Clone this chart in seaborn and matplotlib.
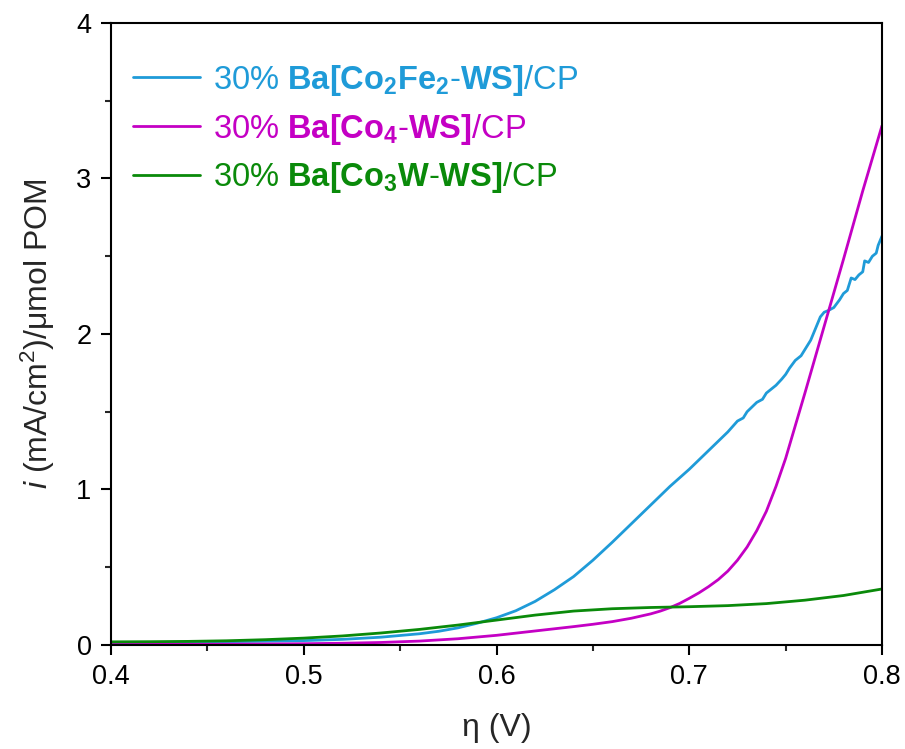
import matplotlib
matplotlib.use("Agg")
import matplotlib.pyplot as plt
import seaborn as sns
import numpy as np
import pandas as pd
from matplotlib.ticker import MultipleLocator

# ---- data ----
eta_green = [0.40, 0.42, 0.44, 0.46, 0.48, 0.50, 0.52, 0.54, 0.56, 0.58, 0.60,
             0.62, 0.64, 0.66, 0.68, 0.70, 0.72, 0.74, 0.76, 0.78, 0.80]
i_green = [0.020, 0.021, 0.023, 0.027, 0.034, 0.044, 0.058, 0.077, 0.100, 0.128, 0.160,
           0.192, 0.218, 0.233, 0.241, 0.246, 0.253, 0.266, 0.288, 0.318, 0.360]

eta_magenta = [0.40, 0.44, 0.48, 0.50, 0.52, 0.54, 0.56, 0.58, 0.60, 0.62, 0.64,
               0.65, 0.66, 0.67, 0.68, 0.685, 0.69, 0.695, 0.70, 0.705, 0.71, 0.715,
               0.72, 0.725, 0.73, 0.735, 0.74, 0.745, 0.75, 0.755, 0.76, 0.765,
               0.77, 0.775, 0.78, 0.785, 0.79, 0.795, 0.80]
i_magenta = [0.003, 0.004, 0.006, 0.008, 0.011, 0.016, 0.025, 0.040, 0.062, 0.090, 0.118,
             0.133, 0.150, 0.172, 0.200, 0.218, 0.240, 0.267, 0.300, 0.335, 0.375, 0.420,
             0.475, 0.545, 0.630, 0.735, 0.860, 1.020, 1.200, 1.410, 1.620, 1.835,
             2.050, 2.265, 2.480, 2.700, 2.920, 3.130, 3.340]

eta_blue = [0.40, 0.42, 0.44, 0.46, 0.48, 0.50, 0.52, 0.54, 0.56, 0.57, 0.58, 0.59, 0.60,
            0.61, 0.62, 0.63, 0.64, 0.65, 0.66, 0.67, 0.68, 0.69, 0.700, 0.705,
            0.710, 0.715, 0.720, 0.725, 0.728, 0.730, 0.735, 0.738, 0.740, 0.745,
            0.748, 0.750, 0.752, 0.755, 0.758, 0.760, 0.763, 0.765, 0.767, 0.768,
            0.770, 0.772, 0.775, 0.778, 0.780, 0.782, 0.784, 0.786, 0.788, 0.790,
            0.791, 0.793, 0.795, 0.797, 0.798, 0.800]
i_blue = [0.015, 0.016, 0.018, 0.021, 0.024, 0.028, 0.036, 0.050, 0.072, 0.088, 0.110, 0.140,
          0.175, 0.220, 0.280, 0.355, 0.440, 0.545, 0.660, 0.780, 0.900, 1.020, 1.130, 1.190,
          1.250, 1.310, 1.370, 1.440, 1.460, 1.500, 1.560, 1.580, 1.620, 1.670,
          1.710, 1.740, 1.780, 1.830, 1.860, 1.900, 1.960, 2.020, 2.080, 2.110,
          2.140, 2.150, 2.170, 2.220, 2.260, 2.280, 2.360, 2.350, 2.380, 2.400,
          2.470, 2.460, 2.500, 2.520, 2.570, 2.630]

labels = [r"30% $\mathbf{Ba[Co_2Fe_2}$-$\mathbf{WS]}$/CP",
          r"30% $\mathbf{Ba[Co_4}$-$\mathbf{WS]}$/CP",
          r"30% $\mathbf{Ba[Co_3W}$-$\mathbf{WS]}$/CP"]
colors = ["#1F9BD8", "#C400C4", "#0A8A0A"]

xticks = [0.4, 0.5, 0.6, 0.7, 0.8]
yticks = [0, 1, 2, 3, 4]

sns.set_style("ticks")
plt.rcParams["font.family"] = ["Liberation Sans", "DejaVu Sans"]
plt.rcParams["mathtext.fontset"] = "custom"
plt.rcParams["mathtext.rm"] = "Liberation Sans"
plt.rcParams["mathtext.it"] = "Liberation Sans:italic"
plt.rcParams["mathtext.bf"] = "Liberation Sans:bold"

fig = plt.figure(figsize=(9.05, 7.49), dpi=100)
ax = fig.add_axes([0.1227, 0.1389, 0.8519, 0.8304])

series = [(eta_blue, i_blue), (eta_magenta, i_magenta), (eta_green, i_green)]
for (xs, ys), lab, col in zip(series, labels, colors):
    df = pd.DataFrame({"eta": xs, "i": ys})
    sns.lineplot(data=df, x="eta", y="i", color=col, linewidth=2.0, label=lab, ax=ax)

ax.set_xlim(0.4, 0.8)
ax.set_ylim(0, 4)
ax.set_xticks(xticks)
ax.set_xticklabels([f"{v:.1f}" for v in xticks])
ax.set_yticks(yticks)
ax.set_yticklabels([str(v) for v in yticks])
ax.xaxis.set_minor_locator(MultipleLocator(0.05))
ax.yaxis.set_minor_locator(MultipleLocator(0.5))
ax.tick_params(which="major", direction="out", length=7, width=1.5, labelsize=19.5, pad=7,
               colors="black")
ax.tick_params(which="minor", direction="out", length=4.5, width=1.5)
for sp in ax.spines.values():
    sp.set_visible(True)
    sp.set_linewidth(1.5)
    sp.set_color("black")

ax.set_xlabel("η (V)", fontsize=23, labelpad=16)
ax.set_ylabel(r"$\mathit{i}$ (mA/cm$^2$)/μmol POM", fontsize=23, labelpad=14)

leg = ax.legend(loc="upper left", bbox_to_anchor=(0.0285, 0.936), frameon=False, fontsize=23.5,
                handlelength=2.05, handletextpad=0.4, labelspacing=0.42, labelcolor="linecolor",
                borderaxespad=0.0, borderpad=0.0)

fig.savefig("out.png", dpi=100)
